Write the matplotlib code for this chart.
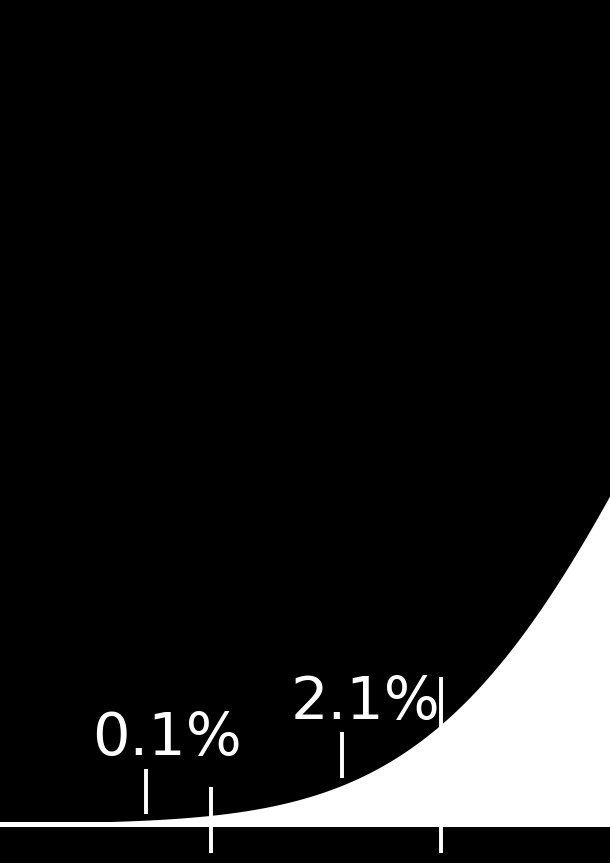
import numpy as np
import matplotlib
matplotlib.use("Agg")
import matplotlib.pyplot as plt

# ----------------------------
# Data (standard normal, left tail)
# ----------------------------
sigma_ticks = [-3, -2]
region_labels = ["0.1%", "2.1%"]
label_x = [-3.193, -2.328]        # text centres, in sigma units
pointer_x = [-3.283, -2.43]       # small pointer lines under the labels

z = np.linspace(-3.92, -1.26, 600)
pdf = np.exp(-z ** 2 / 2) / np.sqrt(2 * np.pi)

# ----------------------------
# Plot
# ----------------------------
fig = plt.figure(figsize=(6.1, 8.63), dpi=100, facecolor="black")
ax = fig.add_axes([0, 0, 1, 1])
ax.set_facecolor("black")

ax.fill_between(z, 0, pdf, color="white", lw=0)
ax.axhline(0, color="white", lw=3.6)

tick_tops = [0.020, 0.0804]
for t, top in zip(sigma_ticks, tick_tops):
    ax.plot([t, t], [-0.0157, top], color="white", lw=2.8, solid_capstyle="butt")

label_y = [0.0378, 0.0577]
pointer_y = [(0.0054, 0.0302), (0.0254, 0.0502)]
for lab, lx, ly, px, (p0, p1) in zip(region_labels, label_x, label_y,
                                      pointer_x, pointer_y):
    ax.text(lx, ly, lab, color="white", fontsize=42.5, ha="center",
            va="baseline", family="DejaVu Sans")
    ax.plot([px, px], [p0, p1], color="white", lw=2.8, solid_capstyle="butt")

ax.set_xlim(-3.917, -1.265)
ax.set_ylim(-0.02136, 0.4512)
ax.axis("off")

fig.savefig("out.png", dpi=100, facecolor="black")
plt.close(fig)
